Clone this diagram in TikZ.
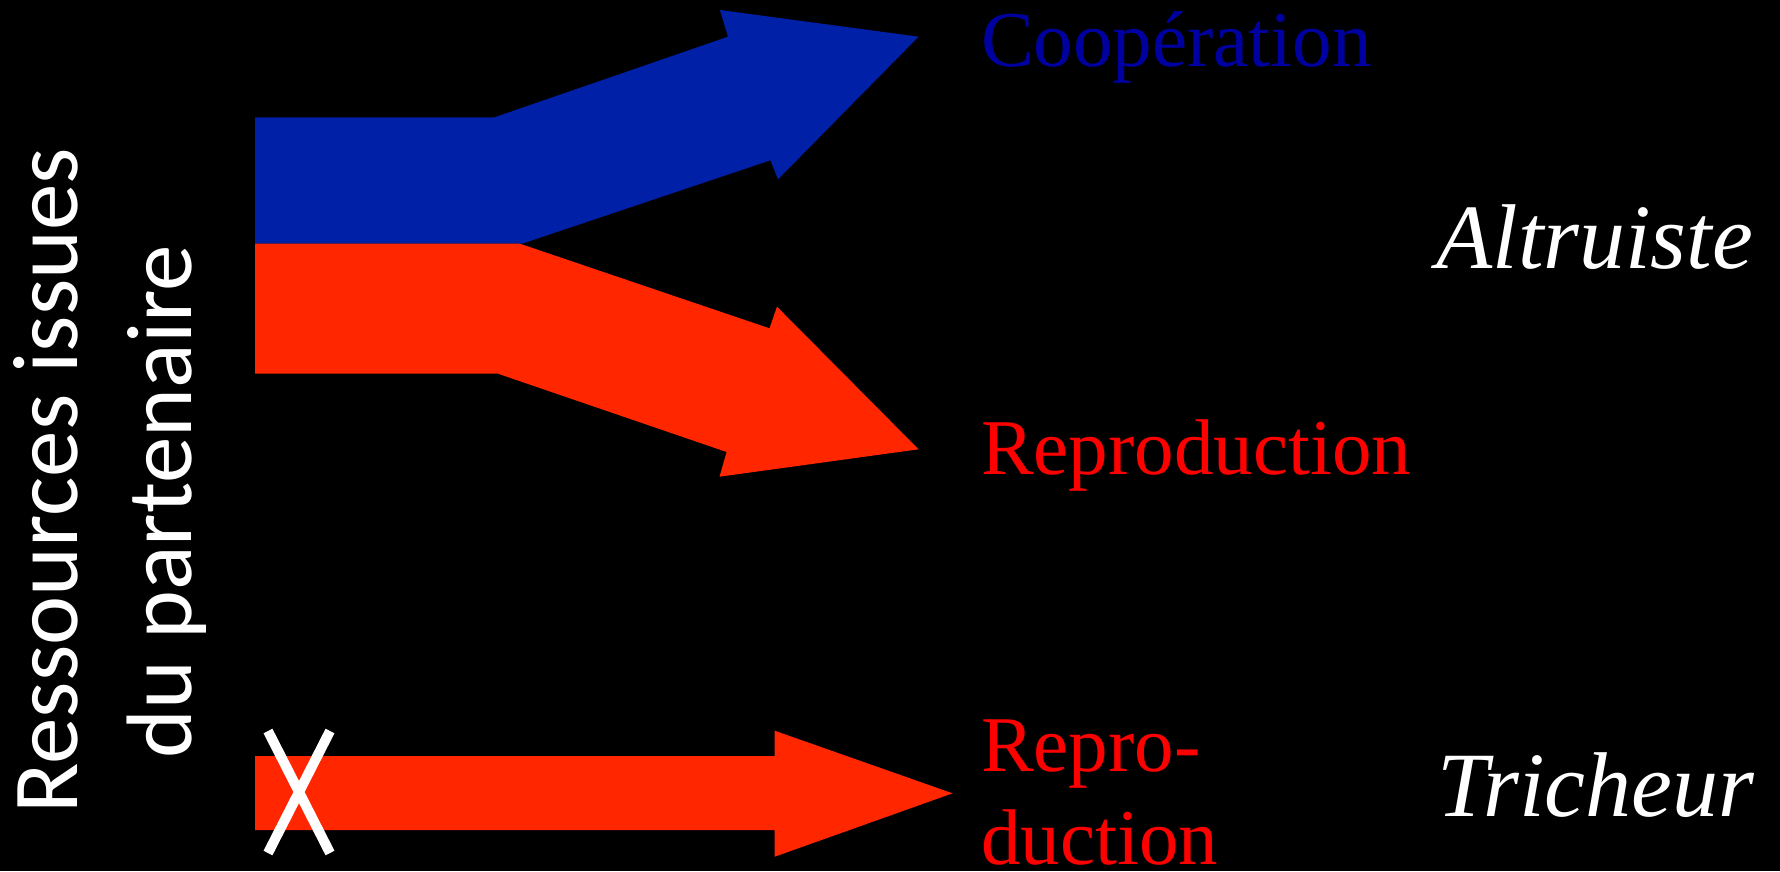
\documentclass[tikz,border=0pt]{standalone}
\usepackage{fontspec}
\setmainfont{Liberation Serif}
\newfontfamily\carlito{Carlito}
\definecolor{arrowblue}{RGB}{0,32,168}
\definecolor{arrowred}{RGB}{255,38,0}
\definecolor{txtblue}{RGB}{0,0,160}
\definecolor{txtred}{RGB}{255,0,0}
\tikzset{
  lbl/.style={inner sep=0pt, anchor=base west, font=\fontsize{79}{94}\selectfont},
  kind/.style={inner sep=0pt, anchor=base west, text=white, font=\fontsize{92}{110}\selectfont\itshape},
  side/.style={inner sep=0pt, anchor=base, rotate=90, text=white, font=\carlito\fontsize{93}{110}\selectfont},
}
\begin{document}
\begin{tikzpicture}[x=1pt,y=-1pt]
\fill[black] (0,0) rectangle (1780,871);
\useasboundingbox (0,0) rectangle (1780,871);
% blue arrow
\fill[arrowblue] (255.2,117.3) -- (494.5,117.3) -- (728,36.7) -- (719.9,10) -- (918.6,36.7)
  -- (778,179.3) -- (770.4,160.3) -- (522.1,243.7) -- (255.2,243.7) -- cycle;
% red arrow (upper)
\fill[arrowred] (255.2,243.7) -- (519.9,243.7) -- (769.5,328.3) -- (777,306.7) -- (918.6,449.3)
  -- (719.5,476.7) -- (726.6,452) -- (498,373.7) -- (255.2,373.7) -- cycle;
% red arrow (lower)
\fill[arrowred] (255.1,756) -- (774.7,756) -- (774.7,730.7) -- (952.6,793.3) -- (774.7,856.7)
  -- (774.7,830) -- (255.1,830) -- cycle;
% cross
\coordinate (xa) at (268,731);
\coordinate (xb) at (330,853);
\coordinate (xc) at (330,731);
\coordinate (xd) at (268,853);
\draw[white, line width=10pt] (xa) -- (xb);
\draw[white, line width=10pt] (xc) -- (xd);
% texts
\node[side] (s1) at (77,480.5) {Ressources issues};
\node[side] (s2) at (191.5,501.5) {du partenaire};
\node[lbl, text=txtblue] (coop) at (981,66) {Coopération};
\node[lbl, text=txtred] (rep) at (981,474.5) {Reproduction};
\node[lbl, text=txtred] (rep2a) at (981,771) {Repro-};
\node[lbl, text=txtred] (rep2b) at (981,864) {duction};
\node[kind] (alt) at (1436,268) {Altruiste};
\node[kind] (tri) at (1437,816) {Tricheur};
\end{tikzpicture}
\end{document}
